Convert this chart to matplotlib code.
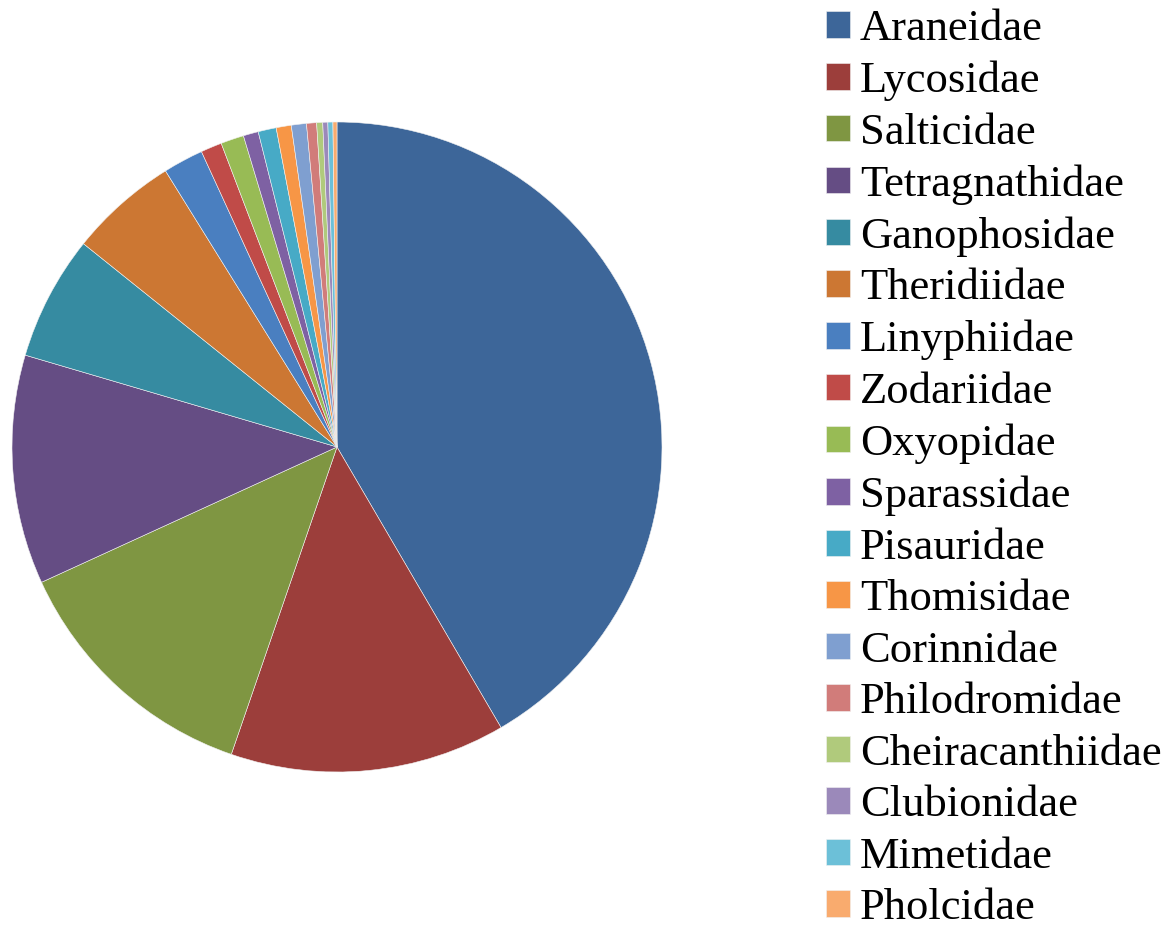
import matplotlib.pyplot as plt

# Spider family shares (percent)
families = ['Araneidae', 'Lycosidae', 'Salticidae', 'Tetragnathidae', 'Ganophosidae',
            'Theridiidae', 'Linyphiidae', 'Zodariidae', 'Oxyopidae', 'Sparassidae',
            'Pisauridae', 'Thomisidae', 'Corinnidae', 'Philodromidae', 'Cheiracanthiidae',
            'Clubionidae', 'Mimetidae', 'Pholcidae']
shares = [41.6, 13.7, 12.9, 11.4, 6.2,
          5.4, 2.0, 1.05, 1.15, 0.75,
          0.9, 0.75, 0.75, 0.5, 0.3,
          0.25, 0.25, 0.2]
colors = ['#3D6699', '#9C3E3B', '#7F9642', '#654D84', '#368BA1',
          '#CC7733', '#4A7FC0', '#C04B48', '#98BB55', '#7E61A3',
          '#47AAC6', '#F79646', '#7F9FD0', '#D17C7A', '#B0CA7C',
          '#9B89BA', '#6CC0D8', '#F9AB6E']

plt.rcParams['font.family'] = ['Liberation Serif', 'DejaVu Serif']

fig = plt.figure(figsize=(11.69, 9.32), dpi=100)

# pie axes: centre (337, 447) px, radius 325 px
ax = fig.add_axes([12 / 1169, (932 - 772) / 932, 650 / 1169, 650 / 932])
wedges, _ = ax.pie(shares, colors=colors, startangle=90, counterclock=False,
                   wedgeprops=dict(edgecolor='#f2f2f2', linewidth=0.4))
ax.set_xlim(-1, 1)
ax.set_ylim(-1, 1)
ax.set_aspect('equal')
ax.axis('off')

# legend on the right
fig.legend(wedges, families, loc='upper left', bbox_to_anchor=(826 / 1169, 1 - 9 / 932),
           frameon=False, fontsize=32, borderpad=0, borderaxespad=0,
           handlelength=0.54, handleheight=0.54, handletextpad=0.22,
           labelspacing=0.26)

plt.savefig('out.png', dpi=100)
